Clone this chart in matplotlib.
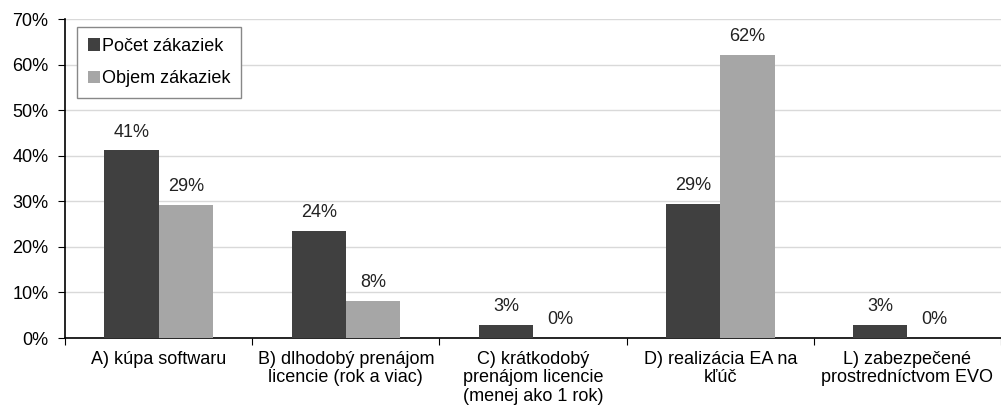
import numpy as np
import matplotlib.pyplot as plt
from matplotlib.ticker import FixedLocator, PercentFormatter

plt.rcParams['font.family'] = ['Liberation Sans', 'DejaVu Sans']

categories = [
    "A) kúpa softwaru",
    "B) dlhodobý prenájom\nlicencie (rok a viac)",
    "C) krátkodobý\nprenájom licencie\n(menej ako 1 rok)",
    "D) realizácia EA na\nkľúč",
    "L) zabezpečené\nprostredníctvom EVO",
]
pocet = [41.2, 23.5, 2.9, 29.4, 2.9]
objem = [29.2, 8.1, 0.0, 62.1, 0.0]
series_names = ["Počet zákaziek", "Objem zákaziek"]

fs = 13

fig = plt.figure(figsize=(10.01, 4.15), dpi=100)
ax = fig.add_axes([0.065, 0.1855, 0.935, 0.7685])

x = np.arange(len(categories))
w = 0.29
b1 = ax.bar(x - w / 2, pocet, w, color="#404040", label=series_names[0], zorder=3)
b2 = ax.bar(x + w / 2, objem, w, color="#a6a6a6", label=series_names[1], zorder=3)

for bars, vals in ((b1, pocet), (b2, objem)):
    for rect, v in zip(bars, vals):
        ax.annotate(f"{v:.0f}%", (rect.get_x() + rect.get_width() / 2, v),
                    xytext=(0, 7), textcoords="offset points",
                    ha="center", va="bottom", fontsize=fs, color="#222222")

ax.set_ylim(0, 70)
ax.set_yticks(np.arange(0, 71, 10))
ax.yaxis.set_major_formatter(PercentFormatter(decimals=0))
ax.grid(axis="y", color="#d9d9d9", linewidth=1, zorder=0)

ax.set_xlim(-0.5, len(categories) - 0.5)
ax.xaxis.set_major_locator(FixedLocator(np.arange(-0.5, len(categories), 1.0)))
ax.xaxis.set_minor_locator(FixedLocator(x))
ax.set_xticklabels([], minor=False)
ax.set_xticklabels(categories, minor=True, fontsize=fs, linespacing=1.12)
ax.tick_params(axis="x", which="minor", length=0, pad=9)
ax.tick_params(axis="x", which="major", length=5, direction="out")
ax.tick_params(axis="y", length=5, direction="out", labelsize=fs, pad=7)

for spine in ("top", "right"):
    ax.spines[spine].set_visible(False)
ax.spines["left"].set_linewidth(1.2)
ax.spines["bottom"].set_linewidth(1.2)

leg = ax.legend(loc="upper left", bbox_to_anchor=(0.0125, 0.975), fontsize=fs,
                handlelength=0.7, handleheight=0.7, handletextpad=0.1,
                borderpad=0.6, labelspacing=0.85, borderaxespad=0,
                fancybox=False, framealpha=1)
leg.get_frame().set_edgecolor("#888888")

fig.savefig("out.png", dpi=100)
